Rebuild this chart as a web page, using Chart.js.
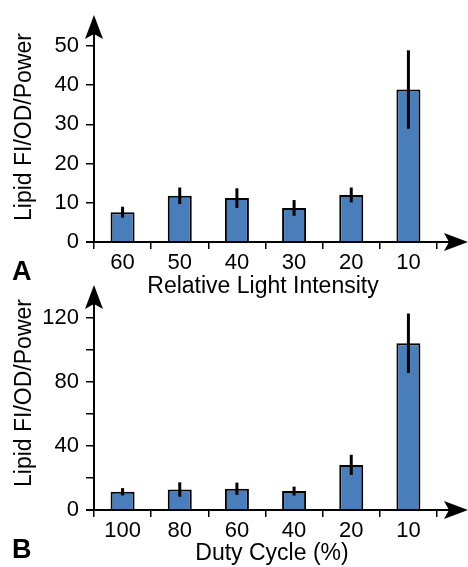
<!DOCTYPE html>
<html>
<head>
<meta charset="utf-8">
<script src="https://cdn.jsdelivr.net/npm/chart.js@4"></script>
<style>
  body { margin: 0; background: #fff; }
  #wrap { position: relative; width: 468px; height: 567px; }
  canvas { position: absolute; left: 0; }
</style>
</head>
<body>
<div id="wrap">
  <canvas id="chartA" width="468" height="300" style="top:0"></canvas>
  <canvas id="chartB" width="468" height="284" style="top:283px"></canvas>
</div>
<script>
// panel A
const intensityLabels = ['60', '50', '40', '30', '20', '10'];
const intensityValues = [7.6, 11.8, 11.2, 8.7, 12.0, 38.9];
const intensityErrors = [1.4, 2.1, 2.5, 2.0, 1.9, 10.0];
const intensityTicks = [0, 10, 20, 30, 40, 50];

// panel B
const dutyLabels = ['100', '80', '60', '40', '20', '10'];
const dutyValues = [11.4, 12.8, 13.3, 11.8, 28.2, 104.2];
const dutyErrors = [2.3, 4.5, 3.8, 2.8, 6.3, 18.6];
const dutyTicks = [0, 40, 80, 120];

const FONT = "'Liberation Sans', Arial, sans-serif";
Chart.defaults.font.family = FONT;

function upArrow(ctx, x, y) {
  ctx.beginPath();
  ctx.moveTo(x, y);
  ctx.lineTo(x + 9, y + 24);
  ctx.lineTo(x, y + 19);
  ctx.lineTo(x - 9, y + 24);
  ctx.closePath();
  ctx.fill();
}

function rightArrow(ctx, x, y) {
  ctx.beginPath();
  ctx.moveTo(x, y);
  ctx.lineTo(x - 24, y - 9);
  ctx.lineTo(x - 19, y);
  ctx.lineTo(x - 24, y + 9);
  ctx.closePath();
  ctx.fill();
}

const decor = {
  id: 'decor',
  afterDatasetsDraw(chart, args, opts) {
    const ctx = chart.ctx, xs = chart.scales.x, ys = chart.scales.y;
    const vals = chart.data.datasets[0].data;
    ctx.save();
    ctx.strokeStyle = '#000';
    ctx.lineWidth = 3;
    opts.errors.forEach((e, i) => {
      const px = xs.getPixelForValue(i);
      ctx.beginPath();
      ctx.moveTo(px, ys.getPixelForValue(vals[i] + e));
      ctx.lineTo(px, ys.getPixelForValue(vals[i] - e));
      ctx.stroke();
    });
    ctx.restore();
  },
  afterDraw(chart, args, opts) {
    const ctx = chart.ctx, a = chart.chartArea;
    ctx.save();
    ctx.strokeStyle = '#000';
    ctx.fillStyle = '#000';
    ctx.lineWidth = 2;
    ctx.beginPath();
    ctx.moveTo(a.left, a.bottom + 1);
    ctx.lineTo(a.left, opts.arrowTop + 19);
    ctx.moveTo(a.left - 8, a.bottom);
    ctx.lineTo(468 - 19, a.bottom);
    ctx.stroke();
    upArrow(ctx, a.left, opts.arrowTop);
    rightArrow(ctx, 468, a.bottom);

    ctx.font = '23px ' + FONT;
    ctx.textAlign = 'center';
    ctx.textBaseline = 'middle';
    ctx.fillText(opts.xTitle, opts.xTitleX, opts.xTitleY);
    ctx.save();
    ctx.translate(25, opts.yTitleY);
    ctx.rotate(-Math.PI / 2);
    ctx.fillText('Lipid FI/OD/Power', 0, 0);
    ctx.restore();

    ctx.font = 'bold 27px ' + FONT;
    ctx.textAlign = 'left';
    ctx.textBaseline = 'alphabetic';
    ctx.fillText(opts.letter, 12, opts.letterY);
    ctx.restore();
  }
};

function makeChart(id, labels, values, errors, tickList, yMax, step, o) {
  return new Chart(document.getElementById(id), {
    type: 'bar',
    data: {
      labels: labels,
      datasets: [{
        data: values,
        backgroundColor: '#4a7ebb',
        borderColor: '#000',
        borderWidth: 2,
        barPercentage: 0.42,
        categoryPercentage: 1
      }]
    },
    options: {
      responsive: false,
      animation: false,
      layout: { padding: { top: o.padTop, right: 31, left: 0, bottom: 0 } },
      plugins: {
        legend: { display: false },
        tooltip: { enabled: false },
        decor: {
          errors: errors,
          arrowTop: o.arrowTop,
          xTitle: o.xTitle,
          xTitleX: o.xTitleX,
          xTitleY: o.xTitleY,
          yTitleY: o.yTitleY,
          letter: o.letter,
          letterY: o.letterY
        }
      },
      scales: {
        x: {
          grid: { offset: true, drawOnChartArea: false, color: '#000', lineWidth: 1.5, tickLength: 7 },
          border: { display: false },
          ticks: { color: '#000', font: { size: 22 }, padding: 1, maxRotation: 0 },
          afterFit: s => { s.height = o.xHeight; }
        },
        y: {
          min: 0,
          max: yMax,
          grid: { drawOnChartArea: false, color: '#000', lineWidth: 1.5, tickLength: 8 },
          border: { display: false },
          ticks: {
            stepSize: step,
            color: '#000',
            font: { size: 22 },
            padding: 7,
            callback: v => tickList.includes(v) ? v : ''
          },
          afterFit: s => { s.width = 94; }
        }
      }
    },
    plugins: [decor]
  });
}

makeChart('chartA', intensityLabels, intensityValues, intensityErrors, intensityTicks, 50, 10, {
  padTop: 46, xHeight: 58, arrowTop: 15,
  xTitle: 'Relative Light Intensity', xTitleX: 263, xTitleY: 287,
  yTitleY: 127, letter: 'A', letterY: 280
});

makeChart('chartB', dutyLabels, dutyValues, dutyErrors, dutyTicks, 120, 20, {
  padTop: 35, xHeight: 57, arrowTop: 2,
  xTitle: 'Duty Cycle (%)', xTitleX: 272, xTitleY: 271,
  yTitleY: 110, letter: 'B', letterY: 275
});
</script>
</body>
</html>
